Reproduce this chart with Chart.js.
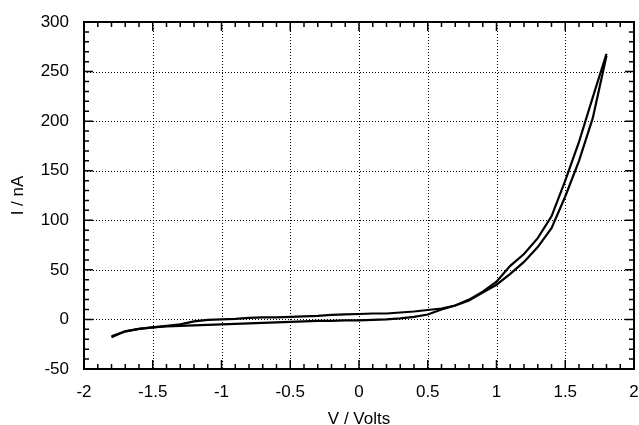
<!DOCTYPE html>
<html>
<head>
<meta charset="utf-8">
<script src="https://cdn.jsdelivr.net/npm/chart.js@4"></script>
<style>
  html, body { margin: 0; padding: 0; background: #fff; }
  #wrap { width: 639px; height: 425px; }
</style>
</head>
<body>
<div id="wrap"><canvas id="ivChart"></canvas></div>
<script>
// sweep up: -1.8 V -> 1.8 V
const voltsUp = [-1.8, -1.7, -1.6, -1.5, -1.4, -1.3, -1.2, -1.1, -1.0, -0.9, -0.8, -0.7, -0.6, -0.5, -0.4, -0.3, -0.2, -0.1, 0.0,
    0.1, 0.2, 0.3, 0.4, 0.5, 0.6, 0.7, 0.8, 0.9, 1.0, 1.1, 1.2, 1.3, 1.4, 1.5, 1.6, 1.7, 1.8];
const currentUp = [-18, -12, -9.5, -8, -7, -6.5, -6, -5.5, -5, -4.5, -4, -3.5, -3, -2.5, -2, -1.5, -1.5, -1, -1,
    -0.5, 0, 1, 2.5, 5, 10, 14, 19, 27, 35, 46, 58, 73, 92, 124, 160, 203, 266];

// sweep back: 1.8 V -> -1.8 V
const voltsDown = [1.8, 1.7, 1.6, 1.5, 1.4, 1.3, 1.2, 1.1, 1.0, 0.9, 0.8, 0.7, 0.6, 0.5, 0.4, 0.3, 0.2, 0.1, 0.0,
    -0.1, -0.2, -0.3, -0.4, -0.5, -0.6, -0.7, -0.8, -0.9, -1.0, -1.1, -1.2, -1.3, -1.4, -1.5, -1.6, -1.7, -1.8];
const currentDown = [268, 224, 179, 140, 104, 82, 66, 54, 38, 28, 20, 14, 11, 9.5, 8, 7, 6, 6, 5.5,
    5, 4.5, 3.5, 3, 2.5, 2, 2, 1.5, 0.5, 0, -0.5, -2, -5, -6.5, -8, -9.5, -12, -17];

const xTicks = [-2, -1.5, -1, -0.5, 0, 0.5, 1, 1.5, 2];
const yTicks = [-50, 0, 50, 100, 150, 200, 250, 300];

const font = { family: "'Liberation Sans', Arial, sans-serif", size: 17 };

function toPoints(xs, ys) {
    return xs.map((x, i) => ({ x: x, y: ys[i] }));
}

// dotted grid, solid frame and inward minor/major ticks on all four sides
const framePlugin = {
    id: "frame",
    beforeDatasetsDraw(chart) {
        const { ctx, chartArea: a, scales: { x, y } } = chart;
        ctx.save();
        ctx.strokeStyle = "#000";
        ctx.lineWidth = 1;
        ctx.setLineDash([1, 2]);
        xTicks.slice(1, -1).forEach(v => {
            const px = Math.round(x.getPixelForValue(v)) + 0.5;
            ctx.beginPath();
            ctx.moveTo(px, a.top);
            ctx.lineTo(px, a.bottom);
            ctx.stroke();
        });
        yTicks.slice(1, -1).forEach(v => {
            const py = Math.round(y.getPixelForValue(v)) + 0.5;
            ctx.beginPath();
            ctx.moveTo(a.left, py);
            ctx.lineTo(a.right, py);
            ctx.stroke();
        });
        ctx.restore();
    },
    afterDatasetsDraw(chart) {
        const { ctx, chartArea: a, scales: { x, y } } = chart;
        ctx.save();
        ctx.strokeStyle = "#000";
        ctx.setLineDash([]);
        ctx.lineWidth = 1.5;
        ctx.beginPath();
        // minor ticks every 0.1 V / 10 nA
        for (let i = -20; i <= 20; i++) {
            const px = x.getPixelForValue(i / 10);
            const len = i % 5 === 0 ? 9 : 5;
            ctx.moveTo(px, a.bottom);
            ctx.lineTo(px, a.bottom - len);
            ctx.moveTo(px, a.top);
            ctx.lineTo(px, a.top + len);
        }
        for (let i = -5; i <= 30; i++) {
            const py = y.getPixelForValue(i * 10);
            const len = i % 5 === 0 ? 9 : 5;
            ctx.moveTo(a.left, py);
            ctx.lineTo(a.left + len, py);
            ctx.moveTo(a.right, py);
            ctx.lineTo(a.right - len, py);
        }
        ctx.stroke();
        ctx.lineWidth = 2;
        ctx.strokeRect(a.left, a.top, a.right - a.left, a.bottom - a.top);
        ctx.restore();
    }
};

const ctx = document.getElementById("ivChart").getContext("2d");
new Chart(ctx, {
    type: "scatter",
    data: {
        datasets: [
            {
                label: "up",
                data: toPoints(voltsUp, currentUp),
                showLine: true,
                borderColor: "#000",
                borderWidth: 2.2,
                pointRadius: 0,
                tension: 0
            },
            {
                label: "down",
                data: toPoints(voltsDown, currentDown),
                showLine: true,
                borderColor: "#000",
                borderWidth: 2.2,
                pointRadius: 0,
                tension: 0
            }
        ]
    },
    options: {
        responsive: true,
        maintainAspectRatio: false,
        animation: false,
        layout: { padding: { left: 0, right: 5, top: 22, bottom: 0 } },
        plugins: {
            legend: { display: false },
            tooltip: { enabled: false }
        },
        scales: {
            x: {
                type: "linear",
                min: -2,
                max: 2,
                afterFit: s => { s.height = 56; s.paddingLeft = 0; s.paddingRight = 0; },
                afterBuildTicks: s => { s.ticks = xTicks.map(v => ({ value: v })); },
                grid: { display: false, drawTicks: false },
                border: { display: false },
                ticks: { color: "#000", font: font, padding: 13, maxRotation: 0, callback: v => String(v) },
                title: { display: true, text: "V / Volts", color: "#000", font: { ...font, lineHeight: 1 }, padding: { top: -3, bottom: -3 } }
            },
            y: {
                type: "linear",
                min: -50,
                max: 300,
                afterFit: s => { s.width = 84; s.paddingTop = 0; s.paddingBottom = 0; },
                afterBuildTicks: s => { s.ticks = yTicks.map(v => ({ value: v })); },
                grid: { display: false, drawTicks: false },
                border: { display: false },
                ticks: { color: "#000", font: font, padding: 15, callback: v => String(v) },
                title: { display: true, text: "I / nA", color: "#000", font: { ...font, lineHeight: 1 }, padding: { top: 10, bottom: 0 } }
            }
        }
    },
    plugins: [framePlugin]
});
</script>
</body>
</html>
